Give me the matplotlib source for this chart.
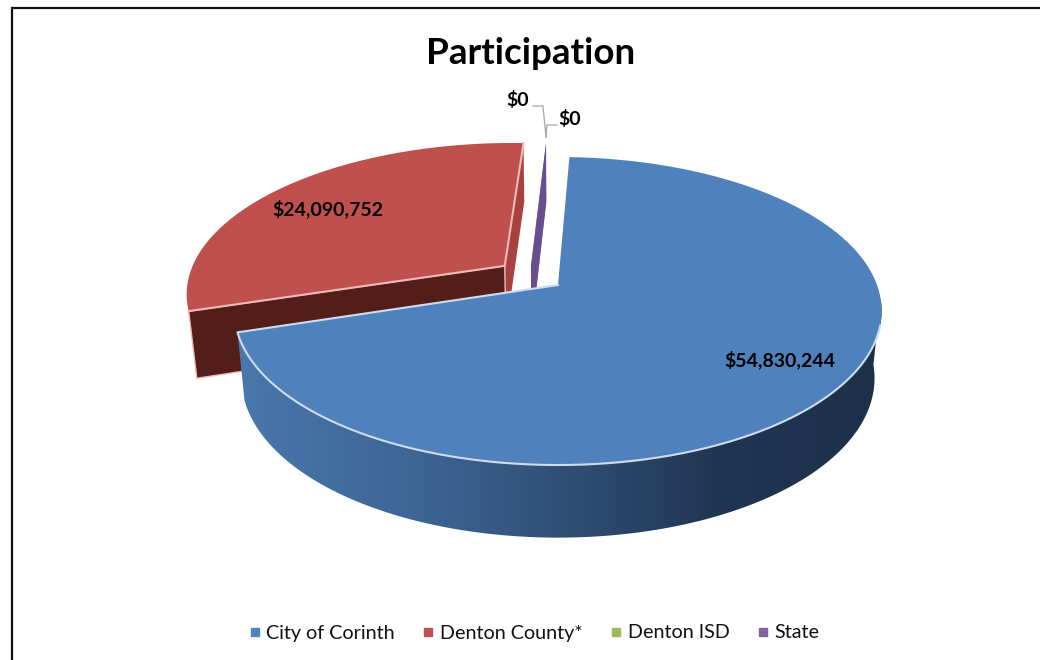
import numpy as np
import matplotlib
matplotlib.use('Agg')  # Headless mode
import matplotlib.pyplot as plt
from matplotlib.colors import LinearSegmentedColormap
from matplotlib.lines import Line2D
from matplotlib.patches import Polygon

# ========== data ==========
categories = ['City of Corinth', 'Denton County*', 'Denton ISD', 'State']
values = [54830244, 24090752, 0, 0]
value_labels = ['$54,830,244', '$24,090,752', '$0', '$0']

# ========== style ==========
top_colors = ['#4F81BD', '#C0504D', '#9BBB59', '#8064A2']
edge_colors = ['#cfdcec', '#eeb9b6', '#9BBB59', '#8064A2']
face_colors = ['#2f4b70', '#531d19', '#7d9a45', '#684d90']
end_colors = ['#2f4b70', '#a8423f', '#7d9a45', '#684d90']
explode = [0.0, 0.215, 0.155, 0.155]
explode_angle = [None, None, 326.0, 326.0]  # zero slices have no mid angle

START_ANGLE = 2.4
CX, CY = 558.0, 285.0   # apex of the unexploded pie, in pixels
SCALE_X, SCALE_Y = 319.0, 149.6
PERSP = 0.169
DEPTH = 66.0


def project(u, v):
    # disc coordinates -> pixels, with a bit of perspective
    w = 1.0 - PERSP * v
    return CX + SCALE_X * u / w, CY + SCALE_Y * v / w


def lower(u, v):
    # the same disc point on the bottom side of the pie
    x, y = project(u, v)
    return CX + (x - CX) * 0.978, y + DEPTH * (1 + 0.1 * v)


def rim(th1, th2, ox, oy, n=200):
    th = np.radians(np.linspace(th1, th2, n))
    return ox + np.sin(th), oy - np.cos(th)


def pts(func, u, v):
    x, y = func(np.asarray(u, dtype=float), np.asarray(v, dtype=float))
    return np.column_stack([x, y])


fig = plt.figure(figsize=(10.4, 6.6), dpi=100)
ax = fig.add_axes([0, 0, 1, 1])

total = sum(values)
edges = START_ANGLE + np.concatenate([[0], np.cumsum(values)]) / total * 360.0

offsets = []
for i in range(len(values)):
    th1, th2 = edges[i], edges[i + 1]
    mid = explode_angle[i] if explode_angle[i] is not None else (th1 + th2) / 2
    offsets.append((explode[i] * np.sin(np.radians(mid)),
                    -explode[i] * np.cos(np.radians(mid))))

# ---- Denton County: cut faces first, then its top ----
th1, th2 = edges[1], edges[2]
ox, oy = offsets[1]
u, v = rim(th2, th2, ox, oy, 2)
end_face = np.vstack([pts(project, [ox, u[0]], [oy, v[0]]),
                      pts(lower, [u[0], ox], [v[0], oy])])
ax.add_patch(Polygon(end_face, fc=end_colors[1], ec='none', zorder=1))

u, v = rim(th1, th1, ox, oy, 2)
cut_face = np.vstack([pts(project, [ox, u[0]], [oy, v[0]]),
                      pts(lower, [u[0], ox], [v[0], oy])])
ax.add_patch(Polygon(cut_face, fc=face_colors[1], ec=edge_colors[1], lw=1.0, zorder=1))

u, v = rim(th1, th2, ox, oy)
top = pts(project, np.r_[ox, u], np.r_[oy, v])
ax.add_patch(Polygon(top, fc=top_colors[1], ec='none', zorder=1))
# light bevel only along the two cut edges
bevel = np.vstack([top[1], top[0], top[-1]])
ax.plot(bevel[:, 0], bevel[:, 1], color=edge_colors[1], lw=1.5, zorder=1)

# ---- zero slices show only their extruded radial face ----
for i in (2, 3):
    ox, oy = offsets[i]
    u, v = rim(edges[i], edges[i], ox, oy, 2)
    quad = np.vstack([pts(project, [ox, u[0]], [oy, v[0]]),
                      pts(lower, [u[0], ox], [v[0], oy])])
    ax.add_patch(Polygon(quad, fc=face_colors[i], ec='none', zorder=1))

# ---- City of Corinth: wall with gradient, then top ----
th1, th2 = edges[0], edges[1]
u, v = rim(95, th2, 0.0, 0.0)
wall = np.vstack([pts(project, u, v), pts(lower, u[::-1], v[::-1])])
wall_patch = Polygon(wall, fc='none', ec='none')
ax.add_patch(wall_patch)
wall_cmap = LinearSegmentedColormap.from_list(
    'wall', [(0.0, '#4a78ad'), (0.3, '#3d6392'), (0.55, '#2e4a6f'),
             (0.75, '#1f3551'), (1.0, '#1d3049')])
img = ax.imshow(np.linspace(0, 1, 256).reshape(1, -1), cmap=wall_cmap,
                extent=(235, 885, 540, 280), aspect='auto', zorder=1.5)
img.set_clip_path(wall_patch)

u, v = rim(th1, th2, 0.0, 0.0, 400)
top = pts(project, np.r_[0.0, u], np.r_[0.0, v])
ax.add_patch(Polygon(top, fc=top_colors[0], ec='none', zorder=2))
# bevel: near side of the rim and the long cut edge
u, v = rim(105, th2, 0.0, 0.0, 300)
bevel = pts(project, np.r_[u, 0.0], np.r_[v, 0.0])
ax.plot(bevel[:, 0], bevel[:, 1], color=edge_colors[0], lw=1.5, zorder=2.1)

ax.set_xlim(0, 1040)
ax.set_ylim(660, 0)
ax.axis('off')

# chart frame, cropped by the right and bottom of the picture
ax.plot([12, 12, 1040], [660, 8, 8], color='#111111', lw=1.6,
        solid_joinstyle='miter')

FONT = 'Lato'
ax.text(531, 54, 'Participation', fontsize=26.5, fontweight='bold', family=FONT,
        ha='center', va='center', color='black')

ax.text(779.5, 360, value_labels[0], fontsize=14, fontweight='bold', family=FONT,
        ha='center', va='center')
ax.text(328, 209, value_labels[1], fontsize=14, fontweight='bold', family=FONT,
        ha='center', va='center')
ax.text(518, 100, value_labels[2], fontsize=14, fontweight='bold', family=FONT,
        ha='center', va='center')
ax.text(570, 119, value_labels[3], fontsize=14, fontweight='bold', family=FONT,
        ha='center', va='center')

# leader lines of the two $0 labels
ax.plot([533, 543, 546], [106, 106, 137], color='#a6a6a6', lw=0.9)
ax.plot([557, 547, 546], [125, 125, 137], color='#a6a6a6', lw=0.9)

handles = [Line2D([], [], ls='none', marker='s', ms=5.8, color=c, label=name)
           for c, name in zip(top_colors, categories)]
ax.legend(handles=handles, ncol=4, loc='center', bbox_to_anchor=(534 / 1040, 1 - 633 / 660),
          frameon=False, prop={'family': FONT, 'size': 14.2}, handlelength=0.6,
          handletextpad=0.3, columnspacing=1.38, labelcolor='#111111')

plt.savefig('out.png', dpi=100)
plt.close()
